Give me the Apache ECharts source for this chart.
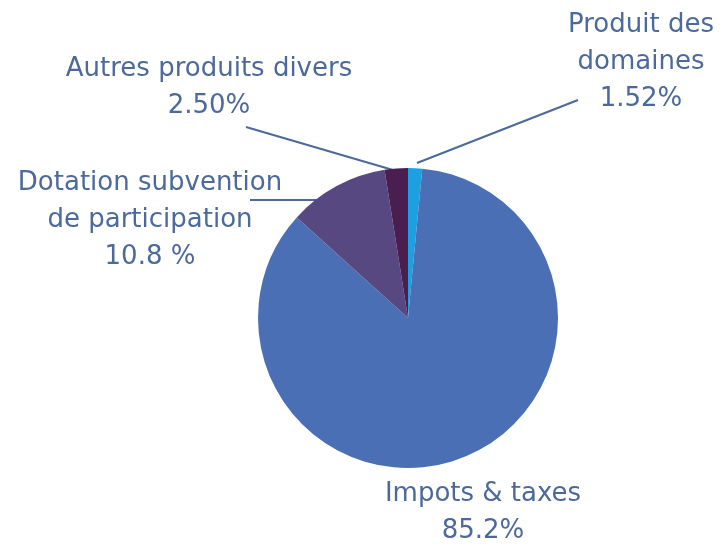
<!DOCTYPE html>
<html>
<head>
<meta charset="utf-8">
<script src="https://cdn.jsdelivr.net/npm/echarts@6/dist/echarts.min.js"></script>
<style>
  html, body { margin: 0; padding: 0; background: #fff; }
  #chart { width: 723px; height: 547px; }
</style>
</head>
<body>
<div id="chart"></div>
<script>
// slices, clockwise from 12 o'clock
const names = ['Produit des\ndomaines', 'Impots & taxes', 'Dotation subvention\nde participation', 'Autres produits divers']
const values = [1.52, 85.2, 10.8, 2.50]
const pctLabels = ['1.52%', '85.2%', '10.8 %', '2.50%']
const colors = ['#1e9fe0', '#4a6fb5', '#574882', '#4a1f4f']

// label anchor (centre of text block) and leader points, in px
const labelPos = [
  { x: 641, y: 62, line: [[417, 163], [578, 100]] },
  { x: 483, y: 513, line: null },
  { x: 150, y: 220, line: [[320, 200], [250, 200]] },
  { x: 209, y: 88, line: [[393, 170], [246, 127]] }
]

const textColor = '#4b6a9b'

const chart = echarts.init(document.getElementById('chart'))

const option = {
  animation: false,
  color: colors,
  series: [{
    type: 'pie',
    center: [408, 318],
    radius: [0, 150],
    startAngle: 90,
    clockwise: true,
    data: names.map((n, i) => ({
      name: n,
      value: values[i],
      labelLine: { show: !!labelPos[i].line }
    })),
    label: {
      show: true,
      position: 'outside',
      formatter: p => p.name + '\n' + pctLabels[p.dataIndex],
      color: textColor,
      fontFamily: 'DejaVu Sans',
      fontSize: 26,
      lineHeight: 37,
      align: 'center',
      overflow: 'none'
    },
    labelLine: {
      show: true,
      lineStyle: { color: textColor, width: 2 }
    },
    labelLayout: p => {
      const lp = labelPos[p.dataIndex]
      const out = { x: lp.x, y: lp.y, align: 'center', verticalAlign: 'middle' }
      if (lp.line) out.labelLinePoints = lp.line
      return out
    },
    emphasis: { disabled: true }
  }]
}

chart.setOption(option)
</script>
</body>
</html>
